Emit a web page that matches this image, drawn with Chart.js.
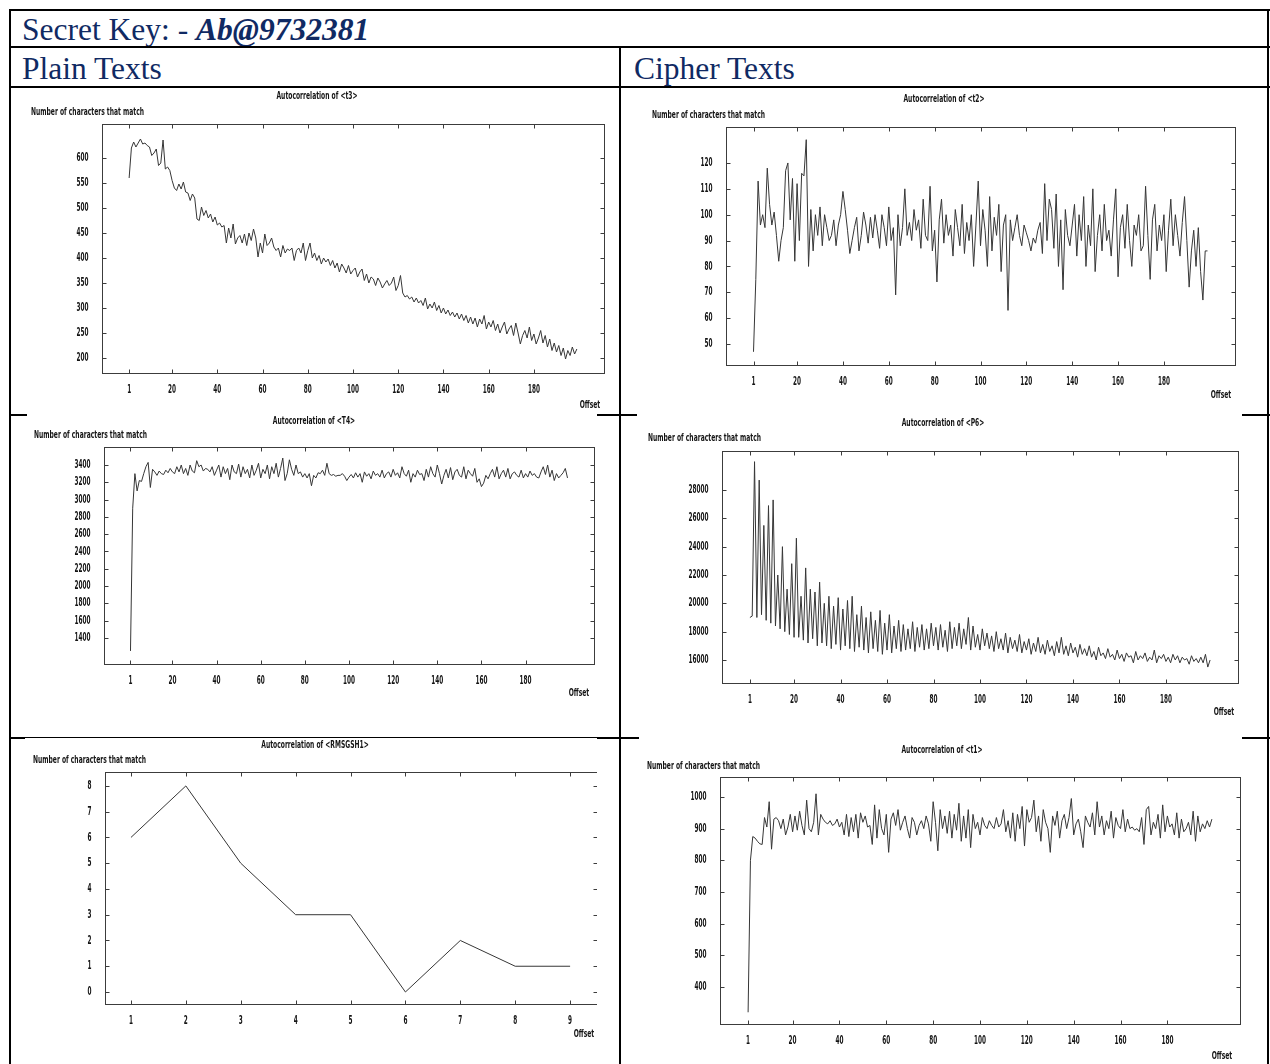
<!DOCTYPE html>
<html>
<head>
<meta charset="utf-8">
<script src="https://cdn.jsdelivr.net/npm/chart.js@4.4.1/dist/chart.umd.min.js"></script>
<style>
  html, body { margin: 0; padding: 0; background: #fff; }
  #page { position: relative; width: 1270px; height: 1064px; overflow: hidden; background: #fff; }
  .ln { position: absolute; background: #000; }
  .hd { position: absolute; font-family: "Liberation Serif", "Times New Roman", serif; font-size: 31.5px;
        color: #102a63; line-height: 1; white-space: nowrap; }
  .hd b { font-style: italic; }
  canvas.ch { position: absolute; }
</style>
</head>
<body>
<div id="page">
  <div class="hd" style="left:22px;top:14px">Secret Key: - <b>Ab@9732381</b></div>
  <div class="hd" style="left:22px;top:53px">Plain Texts</div>
  <div class="hd" style="left:634px;top:53px">Cipher Texts</div>
</div>
<script>
// ── Tick labels ────────────────────────────────────────
const offsetTicks = [1, 20, 40, 60, 80, 100, 120, 140, 160, 180];
const rmsOffsetTicks = [1, 2, 3, 4, 5, 6, 7, 8, 9];
const t3Ticks  = [200, 250, 300, 350, 400, 450, 500, 550, 600];
const t2Ticks  = [50, 60, 70, 80, 90, 100, 110, 120];
const t4Ticks  = [1400, 1600, 1800, 2000, 2200, 2400, 2600, 2800, 3000, 3200, 3400];
const p6Ticks  = [16000, 18000, 20000, 22000, 24000, 26000, 28000];
const rmsTicks = [0, 1, 2, 3, 4, 5, 6, 7, 8];
const t1Ticks  = [400, 500, 600, 700, 800, 900, 1000];

// ── Series (offset 1, 2, 3 ...) ────────────────────────
const t3Values = [
  560, 620, 632, 622, 630, 638, 628, 630, 625, 622, 605, 610, 618, 585, 590, 636, 578, 582, 575, 555,
  540, 535, 548, 538, 552, 532, 530, 515, 528, 520, 478, 475, 502, 485, 495, 480, 488, 472, 482, 466,
  470, 462, 465, 430, 460, 440, 468, 428, 440, 445, 430, 448, 425, 450, 435, 458, 440, 402, 430, 410,
  448, 425, 430, 440, 422, 415, 420, 402, 425, 410, 418, 415, 420, 395, 415, 420, 410, 430, 395, 415,
  430, 400, 410, 395, 405, 388, 400, 392, 398, 385, 395, 380, 390, 372, 388, 380, 370, 385, 368, 375,
  380, 362, 372, 378, 355, 368, 350, 362, 358, 345, 360, 352, 340, 348, 355, 345, 350, 362, 335, 345,
  365, 330, 322, 325, 318, 322, 312, 320, 310, 315, 305, 320, 298, 308, 300, 312, 295, 305, 290, 300,
  288, 296, 285, 292, 282, 290, 278, 288, 275, 285, 270, 282, 268, 280, 262, 278, 268, 285, 258, 272,
  262, 275, 255, 268, 250, 262, 272, 248, 258, 265, 245, 270, 250, 228, 245, 255, 240, 262, 235, 248,
  228, 240, 255, 230, 245, 222, 238, 215, 230, 212, 225, 205, 220, 198, 215, 205, 222, 208, 218
];
const t2Values = [
   47,  75, 113,  96, 100,  95, 118, 104,  96, 101,  92,  82,  90,  95, 117, 120,  98, 114,  82, 112,
   90, 116, 115, 129,  80, 102,  86, 100,  92, 103,  88, 100,  95,  90,  92,  98,  88,  96, 100, 109,
  102,  94,  85,  90,  95,  99,  86,  92, 101,  96,  89,  99,  91, 100,  94,  87, 100,  95,  88, 103,
   90,  95,  69, 100,  88,  95, 110,  92,  97,  90, 102,  94,  98,  87, 106,  92,  90, 111,  86,  94,
   74,  98, 106,  89, 100,  92,  96,  84, 102,  95,  88, 104,  85,  97,  90, 100,  80,  96, 113,  88,
  102,  94,  80, 107,  86,  99,  92, 104,  78,  96, 100,  63,  98,  90,  95, 100,  92,  88,  96,  93,
   90,  86,  91,  89,  94,  97,  85, 112,  90, 106, 102,  87, 108,  80,  98,  71, 102,  92,  88,  96,
  104,  84, 100,  90, 107,  80,  96,  88, 110,  78,  92, 100,  86, 104,  90,  94,  84,  98, 110,  76,
   95, 100,  87, 104,  90,  80,  96,  92, 100,  86,  88, 111,  92,  75,  98, 104,  86,  96,  90, 100,
   78,  94, 106,  88, 100,  92,  84,  97, 107,  90,  72,  86,  94,  80,  95,  78,  67,  86,  86
];
const t4Values = [
  1250, 2900, 3300, 3100, 3220, 3210, 3300, 3380, 3430, 3140, 3350, 3320, 3280, 3330, 3300, 3290, 3340, 3310, 3360, 3320,
  3300, 3380, 3320, 3400, 3300, 3360, 3280, 3400, 3330, 3310, 3450, 3380, 3400, 3330, 3360, 3350, 3320, 3380, 3280, 3340,
  3400, 3260, 3380, 3300, 3360, 3230, 3400, 3320, 3300, 3410, 3260, 3380, 3300, 3350, 3250, 3400, 3280, 3340, 3420, 3250,
  3350, 3300, 3400, 3240, 3380, 3300, 3420, 3260, 3360, 3480, 3220, 3300, 3460, 3350, 3280, 3400, 3300, 3320, 3260, 3300,
  3250, 3300, 3160, 3280, 3250, 3310, 3300, 3340, 3280, 3420, 3300, 3280, 3290, 3270, 3280, 3280, 3300, 3270, 3220, 3260,
  3290, 3250, 3310, 3260, 3300, 3200, 3320, 3270, 3300, 3240, 3330, 3280, 3300, 3260, 3340, 3250, 3300, 3320, 3260, 3350,
  3280, 3310, 3250, 3380, 3300, 3270, 3340, 3200, 3300, 3260, 3340, 3290, 3300, 3220, 3350, 3260, 3380, 3300, 3260, 3400,
  3300, 3180, 3280, 3350, 3250, 3370, 3230, 3320, 3350, 3280, 3260, 3380, 3240, 3340, 3300, 3270, 3360, 3200, 3240, 3150,
  3190, 3280, 3240, 3300, 3350, 3260, 3380, 3240, 3300, 3340, 3260, 3360, 3240, 3300, 3320, 3280, 3260, 3340, 3250, 3300,
  3260, 3330, 3280, 3300, 3260, 3250, 3320, 3380, 3290, 3400, 3260, 3340, 3220, 3300, 3250, 3280, 3310, 3360, 3250
];
const p6Values = [
  19000, 19100, 30000, 19000, 28700, 19200, 25500, 18800, 26900, 18600, 27300, 18400, 22000, 18200, 24000, 18000, 21000, 17800, 22800, 17600,
  24600, 17600, 20500, 17400, 22500, 17200, 21000, 17500, 20800, 17000, 21500, 17200, 20000, 17000, 20500, 16800, 19800, 17100, 20400, 16700,
  19600, 17000, 20200, 16800, 20500, 16600, 19200, 16900, 19800, 16700, 19000, 16500, 19400, 16800, 18800, 16600, 19500, 16400, 18600, 16700,
  19200, 16500, 18400, 16800, 18800, 16600, 18500, 16700, 18200, 16800, 18700, 16600, 18300, 16900, 18500, 16700, 18200, 16800, 18600, 17000,
  18300, 16700, 18500, 16900, 18100, 16600, 18700, 16800, 18300, 17000, 18600, 16800, 18200, 17100, 19000, 16700, 18400, 16900, 17800, 16700,
  18200, 17000, 17900, 16800, 17700, 16600, 18000, 16800, 17500, 16700, 17900, 16500, 17600, 16800, 17400, 16600, 17800, 16500, 17300, 16700,
  17500, 16400, 17200, 16600, 17600, 16500, 17100, 16400, 17400, 16600, 17000, 16300, 17300, 16500, 17600, 16400, 17000, 16300, 17200, 16500,
  16900, 16200, 17100, 16400, 16800, 16300, 17000, 16200, 16600, 16000, 16900, 16300, 16500, 16100, 16800, 16200, 16400, 16000, 16700, 16100,
  16400, 15900, 16500, 16200, 16300, 15800, 16600, 16000, 16300, 16100, 16500, 15900, 16200, 16000, 16700, 15800, 16300, 16100, 16400, 15900,
  16200, 15800, 16400, 16000, 16300, 15800, 16200, 16000, 16100, 15700, 16300, 15900, 16100, 15800, 16200, 15800, 16400, 15500, 16000
];
const rmsValues = [6, 8, 5, 3, 3, 0, 2, 1, 1];
const t1Values = [
  320, 800, 875, 870, 860, 852, 850, 935, 905, 985, 835, 930, 935, 925, 900, 930, 880, 905, 945, 890,
  940, 895, 955, 910, 880, 990, 900, 890, 920, 1010, 880, 945, 930, 920, 915, 925, 910, 915, 930, 905,
  920, 880, 945, 875, 935, 890, 945, 870, 950, 920, 940, 905, 910, 850, 975, 870, 960, 900, 880, 945,
  825, 930, 950, 910, 960, 895, 920, 940, 900, 870, 935, 920, 880, 910, 925, 900, 940, 915, 860, 985,
  920, 830, 960, 900, 940, 885, 955, 870, 945, 895, 980, 860, 940, 870, 960, 840, 945, 900, 920, 880,
  935, 910, 900, 925, 910, 900, 935, 905, 915, 960, 890, 925, 870, 950, 860, 945, 900, 970, 845, 960,
  920, 935, 990, 890, 940, 860, 960, 920, 900, 825, 940, 910, 955, 870, 925, 945, 900, 935, 995, 880,
  915, 930, 890, 840, 940, 920, 905, 950, 880, 985, 905, 940, 880, 925, 900, 955, 870, 935, 910, 900,
  960, 890, 930, 900, 905, 895, 900, 890, 935, 850, 960, 970, 880, 920, 900, 945, 870, 975, 890, 940,
  905, 915, 880, 950, 870, 930, 890, 900, 920, 880, 955, 860, 940, 890, 915, 900, 925, 905, 930
];

// ── Table lines (left, top, width, height) ─────────────
const LINES = [
  [9, 9, 1261, 2], [9, 9, 2, 1055], [1267, 9, 2, 1055],
  [9, 46, 1261, 2], [9, 86, 1261, 2], [619, 46, 2, 1018],
  [9, 414, 18, 2], [597, 414, 40, 2], [1242, 414, 28, 2],
  [9, 737, 16, 2], [25, 737, 575, 1], [597, 737, 42, 2], [1242, 737, 28, 2]
];
const page = document.getElementById('page');
LINES.forEach(([l, t, w, h]) => {
  const d = document.createElement('div');
  d.className = 'ln';
  d.style.cssText = `left:${l}px;top:${t}px;width:${w}px;height:${h}px`;
  page.appendChild(d);
});

// ── Chart look ─────────────────────────────────────────
const NARROW = '"Liberation Sans Narrow", "DejaVu Sans Condensed", "Arial Narrow", "Liberation Sans", sans-serif';
const LABEL_FONT = 'bold 11px ' + NARROW;
const TICK_FONT  = 'bold 12px ' + NARROW;
const YW = 40, XH = 30;

function squeezeText(ctx, text, x, y, align, k) {
  const w = ctx.measureText(text).width * k;
  const x0 = align === 'center' ? x - w / 2 : align === 'right' ? x - w : x;
  ctx.save();
  ctx.translate(x0, y);
  ctx.scale(k, 1);
  ctx.textAlign = 'left';
  ctx.fillText(text, 0, 0);
  ctx.restore();
}

// gnuplot style frame: box, inward mirrored ticks, tick labels, title, axis labels
const gnuFrame = {
  id: 'gnuFrame',
  afterDraw(chart, args, o) {
    const { ctx, chartArea: a, scales: { x, y } } = chart;
    const L = Math.round(a.left) + 0.5, R = Math.round(a.right) + 0.5;
    const T = Math.round(a.top) + 0.5, B = Math.round(a.bottom) + 0.5;
    ctx.save();
    ctx.strokeStyle = '#3c3c3c';
    ctx.lineWidth = 1;
    ctx.strokeRect(L, T, R - L, B - T);
    ctx.beginPath();
    x.ticks.forEach(t => {
      const px = Math.round(x.getPixelForValue(t.value)) + 0.5;
      ctx.moveTo(px, B); ctx.lineTo(px, B - 4);
      ctx.moveTo(px, T); ctx.lineTo(px, T + 4);
    });
    y.ticks.forEach(t => {
      const py = Math.round(y.getPixelForValue(t.value)) + 0.5;
      ctx.moveTo(L, py); ctx.lineTo(L + 4, py);
      ctx.moveTo(R, py); ctx.lineTo(R - 4, py);
    });
    ctx.stroke();

    ctx.fillStyle = '#141414';
    ctx.textBaseline = 'middle';

    // tick labels: condensed digits about 4px wide
    ctx.font = TICK_FONT;
    const kt = 4.0 / ctx.measureText('0').width;
    x.ticks.forEach(t => squeezeText(ctx, String(t.value), x.getPixelForValue(t.value), B + 16, 'center', kt));
    y.ticks.forEach(t => squeezeText(ctx, String(t.value), L - 14, y.getPixelForValue(t.value), 'right', kt));

    ctx.font = LABEL_FONT;
    const ylab = 'Number of characters that match';
    const k = 113 / ctx.measureText(ylab).width;
    squeezeText(ctx, o.title, o.titleAt[0], o.titleAt[1], 'center', k);
    squeezeText(ctx, ylab, o.ylabAt[0], o.ylabAt[1], 'left', k);
    squeezeText(ctx, 'Offset', o.offsetAt[0], o.offsetAt[1], 'center', k);
    ctx.restore();
  }
};

// ── Panels: cell box, plot box (page px), axis ranges ──
const panels = [
  { title: 'Autocorrelation of <t3>', values: t3Values, xTicks: offsetTicks, yTicks: t3Ticks,
    box: [12, 89, 607, 325], plot: [102, 124, 604, 373], x: [-11, 211], y: [170, 668],
    titleAt: [317, 96], ylabAt: [31, 112], offsetAt: [590, 405] },
  { title: 'Autocorrelation of <t2>', values: t2Values, xTicks: offsetTicks, yTicks: t2Ticks,
    box: [622, 89, 645, 325], plot: [726, 127, 1235, 365], x: [-11, 211], y: [41.9, 133.9],
    titleAt: [944, 99], ylabAt: [652, 115], offsetAt: [1221, 395] },
  { title: 'Autocorrelation of <T4>', values: t4Values, xTicks: offsetTicks, yTicks: t4Ticks,
    box: [27, 416, 570, 321], plot: [104, 447, 594, 664], x: [-11, 211], y: [1099, 3608],
    titleAt: [314, 421], ylabAt: [34, 435], offsetAt: [579, 693] },
  { title: 'Autocorrelation of <P6>', values: p6Values, xTicks: offsetTicks, yTicks: p6Ticks,
    box: [637, 416, 605, 321], plot: [722, 451, 1238, 683], x: [-11, 211], y: [14376, 30753],
    titleAt: [943, 423], ylabAt: [648, 438], offsetAt: [1224, 712] },
  { title: 'Autocorrelation of <RMSGSH1>', values: rmsValues, xTicks: rmsOffsetTicks, yTicks: rmsTicks,
    box: [25, 739, 572, 325], plot: [105, 772, 598, 1004], x: [0.527, 9.49], y: [-0.466, 8.54],
    titleAt: [315, 745], ylabAt: [33, 760], offsetAt: [584, 1034] },
  { title: 'Autocorrelation of <t1>', values: t1Values, xTicks: offsetTicks, yTicks: t1Ticks,
    box: [639, 739, 603, 325], plot: [720, 777, 1240, 1024], x: [-11, 211], y: [283, 1063],
    titleAt: [942, 750], ylabAt: [647, 766], offsetAt: [1222, 1056] }
];

panels.forEach(p => {
  const [bx, by, bw, bh] = p.box;
  const [pl, pt, pr, pb] = p.plot;
  const cv = document.createElement('canvas');
  cv.className = 'ch';
  cv.width = bw; cv.height = bh;
  cv.style.cssText = `left:${bx}px;top:${by}px;width:${bw}px;height:${bh}px`;
  page.appendChild(cv);

  const rel = ([ax, ay]) => [ax - bx, ay - by];
  new Chart(cv, {
    type: 'line',
    data: {
      datasets: [{
        data: p.values.map((v, i) => ({ x: i + 1, y: v })),
        borderColor: '#363636',
        borderWidth: 1,
        pointRadius: 0,
        tension: 0,
        fill: false
      }]
    },
    options: {
      responsive: false,
      animation: false,
      events: [],
      layout: { padding: { left: pl - bx - YW, right: bx + bw - pr, top: pt - by, bottom: by + bh - pb - XH } },
      plugins: {
        legend: { display: false },
        tooltip: { enabled: false },
        gnuFrame: { title: p.title, titleAt: rel(p.titleAt), ylabAt: rel(p.ylabAt), offsetAt: rel(p.offsetAt) }
      },
      scales: {
        x: {
          type: 'linear', min: p.x[0], max: p.x[1],
          afterFit: s => { s.height = XH; },
          afterBuildTicks: s => { s.ticks = p.xTicks.map(v => ({ value: v })); },
          grid: { display: false, drawTicks: false },
          border: { display: false },
          ticks: { display: false }
        },
        y: {
          type: 'linear', min: p.y[0], max: p.y[1],
          afterFit: s => { s.width = YW; },
          afterBuildTicks: s => { s.ticks = p.yTicks.map(v => ({ value: v })); },
          grid: { display: false, drawTicks: false },
          border: { display: false },
          ticks: { display: false }
        }
      }
    },
    plugins: [gnuFrame]
  });
});
</script>
</body>
</html>
